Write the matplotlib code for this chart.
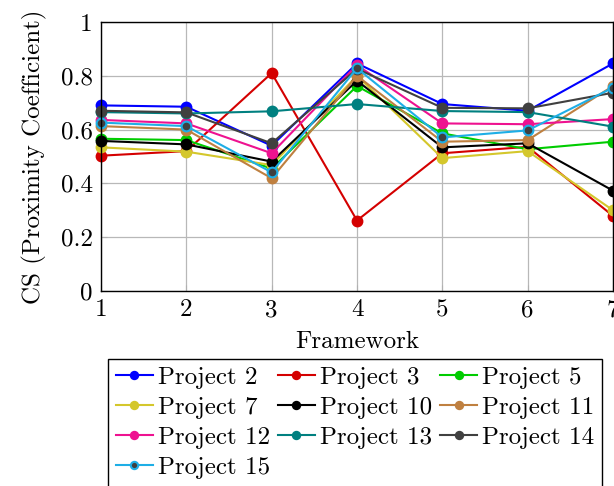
import matplotlib
matplotlib.use("Agg")
import matplotlib.pyplot as plt

plt.rcParams["font.family"] = "serif"
plt.rcParams["font.serif"] = ["cmr10", "DejaVu Serif"]
plt.rcParams["mathtext.fontset"] = "cm"
plt.rcParams["axes.formatter.use_mathtext"] = True
plt.rcParams["font.size"] = 18

frameworks = [1, 2, 3, 4, 5, 6, 7]
x_tick_labels = ["1", "2", "3", "4", "5", "6", "7"]
y_ticks = [0, 0.2, 0.4, 0.6, 0.8, 1.0]
y_tick_labels = ["0", "0.2", "0.4", "0.6", "0.8", "1"]

labels = ["Project 2", "Project 3", "Project 5", "Project 7", "Project 10",
          "Project 11", "Project 12", "Project 13", "Project 14", "Project 15"]

project_2 = [0.69, 0.685, 0.54, 0.846, 0.695, 0.67, 0.846]
project_3 = [0.503, 0.52, 0.81, 0.262, 0.512, 0.536, 0.279]
project_5 = [0.566, 0.561, 0.455, 0.762, 0.586, 0.527, 0.555]
project_7 = [0.534, 0.518, 0.468, 0.80, 0.494, 0.52, 0.30]
project_10 = [0.558, 0.545, 0.481, 0.782, 0.534, 0.549, 0.373]
project_11 = [0.613, 0.60, 0.419, 0.80, 0.555, 0.561, 0.762]
project_12 = [0.636, 0.623, 0.512, 0.84, 0.623, 0.62, 0.639]
project_13 = [0.665, 0.66, 0.668, 0.695, 0.669, 0.665, 0.611]
project_14 = [0.67, 0.664, 0.549, 0.826, 0.681, 0.679, 0.737]
project_15 = [0.626, 0.613, 0.441, 0.828, 0.571, 0.597, 0.756]

series = [project_2, project_3, project_5, project_7, project_10,
          project_11, project_12, project_13, project_14, project_15]

line_colors = ["#0000ff", "#d40000", "#00cc00", "#d4c72c", "#000000",
               "#bf8040", "#ee1290", "#008080", "#404040", "#1eaee6"]
face_colors = ["#0000ff", "#d40000", "#00cc00", "#d4c72c", "#000000",
               "#bf8040", "#ee1290", "#008080", "#404040", "#404040"]

fig = plt.figure(figsize=(6.14, 4.86), dpi=100)
ax = fig.add_axes([101 / 614, (486 - 291) / 486, 512 / 614, 269 / 486])

handles = []
for vals, lc, fc, lab in zip(series, line_colors, face_colors, labels):
    (h,) = ax.plot(frameworks, vals, color=lc, lw=1.5, marker="o", markersize=7,
                   markerfacecolor=fc, markeredgecolor=lc, markeredgewidth=1.5,
                   label=lab, clip_on=False)
    handles.append(h)

ax.set_xlim(1, 7)
ax.set_ylim(0, 1)
ax.set_xticks(frameworks)
ax.set_xticklabels(x_tick_labels)
ax.set_yticks(y_ticks)
ax.set_yticklabels(y_tick_labels)
ax.grid(True, color="#b8b8b8", lw=0.9)
ax.set_axisbelow(True)
ax.tick_params(direction="in", length=4, color="#b0b0b0", pad=6)
for sp in ax.spines.values():
    sp.set_linewidth(1.0)

ax.set_xlabel("Framework", labelpad=7)
ax.set_ylabel("CS (Proximity Coefficient)", labelpad=10)

# legend reads row by row across three columns
ncol = 3
nrow = -(-len(handles) // ncol)
order = [r * ncol + c for c in range(ncol) for r in range(nrow)
         if r * ncol + c < len(handles)]
leg = fig.legend([handles[i] for i in order], [labels[i] for i in order],
                 loc="upper left", bbox_to_anchor=(108 / 614, 1 - 359 / 486),
                 ncol=ncol, frameon=True, fancybox=False, edgecolor="black",
                 framealpha=1, handlelength=1.5, handletextpad=0.2,
                 columnspacing=0.3, labelspacing=0.3, borderpad=0.3,
                 markerscale=0.75, borderaxespad=0)
leg.get_frame().set_linewidth(1.0)

fig.savefig("out.png", dpi=100)
